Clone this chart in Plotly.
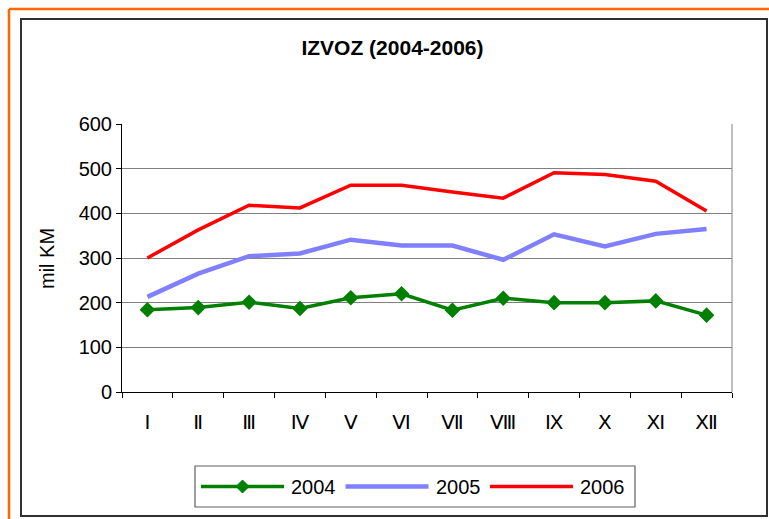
import plotly.graph_objects as go

months = ["Ⅰ", "Ⅱ", "Ⅲ", "Ⅳ", "Ⅴ", "Ⅵ", "Ⅶ", "Ⅷ", "Ⅸ", "Ⅹ", "Ⅺ", "Ⅻ"]
y2004 = [184, 189, 201, 187, 211, 220, 183, 210, 200, 200, 204, 172]
y2005 = [213, 265, 304, 310, 341, 328, 328, 296, 353, 326, 354, 365]
y2006 = [300, 363, 418, 412, 463, 463, 448, 434, 491, 487, 472, 405]
series_names = ["2004", "2005", "2006"]
series_colors = ["#008000", "#8080FF", "#FF0000"]
series_widths = [3.5, 4.5, 3.5]

W, H = 769, 519
L, R, T, B = 122, 37, 124, 127
PW, PH = W - L - R, H - T - B
FONT = "Liberation Sans, Arial, DejaVu Sans, sans-serif"


def px(x):
    return (x - L) / PW


def py(y):
    return (H - B - y) / PH


fig = go.Figure()
for name, vals, col, lw in zip(series_names, [y2004, y2005, y2006], series_colors, series_widths):
    fig.add_trace(go.Scatter(
        x=months, y=vals, name=name, mode="lines+markers" if name == "2004" else "lines",
        line=dict(color=col, width=lw),
        marker=dict(symbol="diamond", size=12, color=col),
        showlegend=False,
    ))

shapes = []
# orange outer frame
shapes.append(dict(type="line", xref="paper", yref="paper", x0=px(9), x1=px(W + 5), y0=py(9), y1=py(9),
                   line=dict(color="#FF6600", width=2.5)))
shapes.append(dict(type="line", xref="paper", yref="paper", x0=px(9), x1=px(9), y0=py(9), y1=py(H + 5),
                   line=dict(color="#FF6600", width=2.5)))
# black chart frame
shapes.append(dict(type="rect", xref="paper", yref="paper", x0=px(21), x1=px(767), y0=py(19), y1=py(516),
                   line=dict(color="#303030", width=2)))
# right plot border
shapes.append(dict(type="line", xref="paper", yref="paper", x0=1, x1=1, y0=0, y1=1,
                   line=dict(color="#808080", width=1)))
# legend box
lx0, lx1, ly0, ly1 = 195, 635, 466, 507
shapes.append(dict(type="rect", xref="paper", yref="paper", x0=px(lx0), x1=px(lx1), y0=py(ly0), y1=py(ly1),
                   line=dict(color="#606060", width=1.2), fillcolor="white"))
annotations = []
ly = (ly0 + ly1) / 2
for i, (name, col, lw) in enumerate(zip(series_names, series_colors, series_widths)):
    sx = 201 + 144.5 * i
    shapes.append(dict(type="line", xref="paper", yref="paper", x0=px(sx), x1=px(sx + 83), y0=py(ly), y1=py(ly),
                       line=dict(color=col, width=lw)))
    if name == "2004":
        cx, r = sx + 41.5, 6.5
        path = "M {} {} L {} {} L {} {} L {} {} Z".format(
            px(cx), py(ly - r), px(cx + r), py(ly), px(cx), py(ly + r), px(cx - r), py(ly))
        shapes.append(dict(type="path", xref="paper", yref="paper", path=path,
                           fillcolor=col, line=dict(color=col, width=1)))
    annotations.append(dict(xref="paper", yref="paper", x=px(sx + 88), y=py(ly), text=name,
                            showarrow=False, xanchor="left", yanchor="middle",
                            font=dict(family=FONT, size=20, color="black")))

annotations.append(dict(xref="paper", yref="paper", x=px(47), y=py(259), text="mil KM", textangle=-90,
                        showarrow=False, xanchor="center", yanchor="middle",
                        font=dict(family=FONT, size=20, color="black")))

fig.update_layout(
    width=W, height=H,
    margin=dict(l=L, r=R, t=T, b=B),
    paper_bgcolor="white", plot_bgcolor="white",
    title=dict(text="<b>IZVOZ (2004-2006)</b>", x=392.5 / W, xanchor="center",
               y=1 - 47.8 / H, yanchor="middle", yref="container",
               font=dict(family=FONT, size=21, color="black")),
    shapes=shapes, annotations=annotations,
    showlegend=False,
    xaxis=dict(type="category", range=[-0.5, len(months) - 0.5], showgrid=False, showline=True,
               linecolor="black", linewidth=1,
               ticks="outside", ticklen=5, tickcolor="black", tickson="boundaries",
               ticklabelstandoff=12,
               tickfont=dict(family=FONT, size=20, color="black"), zeroline=False),
    yaxis=dict(range=[0, 600], dtick=100, showgrid=True, gridcolor="#808080", gridwidth=1,
               showline=True, linecolor="black", linewidth=1, ticks="outside", ticklen=5,
               tickcolor="black", tickfont=dict(family=FONT, size=20, color="black"),
               zeroline=False),
)

fig.write_html("out.html", config={"displayModeBar": False},
               post_script="document.body.style.margin='0';document.body.style.overflow='hidden';")
